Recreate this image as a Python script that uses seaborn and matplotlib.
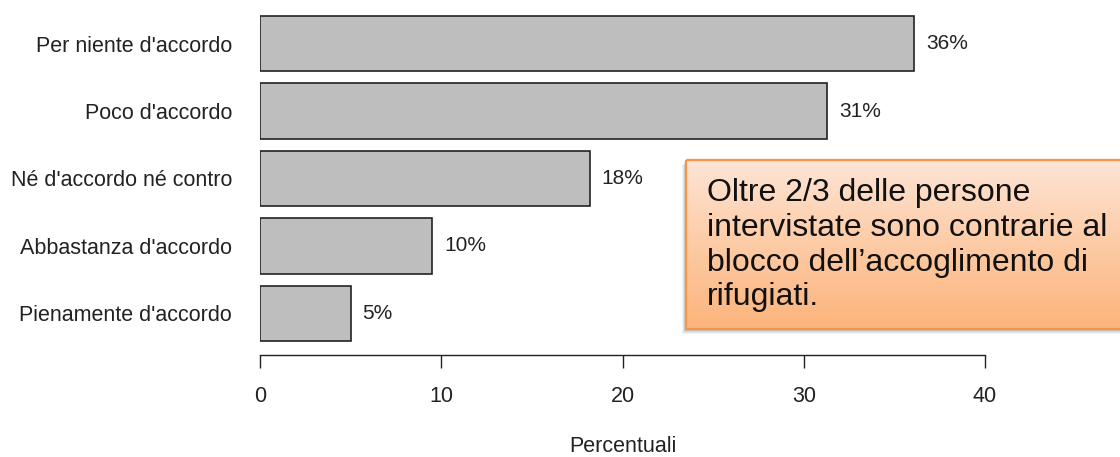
import numpy as np
import pandas as pd
import matplotlib
matplotlib.use("Agg")
import matplotlib.pyplot as plt
import matplotlib.patches as mpatches
from matplotlib.colors import LinearSegmentedColormap
import seaborn as sns

# data
categories = ["Per niente d'accordo", "Poco d'accordo", "Né d'accordo né contro",
              "Abbastanza d'accordo", "Pienamente d'accordo"]
percent = [36.1, 31.3, 18.2, 9.5, 5.0]
labels = ["36%", "31%", "18%", "10%", "5%"]
note = "Oltre 2/3 delle persone\nintervistate sono contrarie al\nblocco dell\u2019accoglimento di\nrifugiati."

df = pd.DataFrame({"cat": categories, "pct": percent})

sns.set_style("white")
plt.rcParams["font.family"] = ["Liberation Sans", "DejaVu Sans"]

W, H = 1120, 457
fig = plt.figure(figsize=(W / 100, H / 100), dpi=100)
ax = fig.add_axes([260 / W, 1 - 355 / H, 725 / W, 353 / H])

sns.barplot(data=df, y="cat", x="pct", orient="h", color="#bebebe",
            edgecolor="#222222", linewidth=1.2, width=0.82, saturation=1, ax=ax)

for i, (v, lab) in enumerate(zip(percent, labels)):
    ax.text(v + 0.65, i, lab, va="center", ha="left", fontsize=15, color="#222222")

ax.set_xlim(0, 40)
ax.set_ylim(4.615, -0.615)
ax.set_xticks([0, 10, 20, 30, 40])
ax.tick_params(axis="x", direction="out", length=9.4, width=1, color="#222222",
               labelsize=15.5, pad=13, labelcolor="#222222", bottom=True)
ax.tick_params(axis="y", length=0, labelsize=15.5, pad=20, labelcolor="#222222")
for s in ["top", "right", "left"]:
    ax.spines[s].set_visible(False)
ax.spines["bottom"].set_color("#222222")
ax.spines["bottom"].set_linewidth(1)
ax.set_ylabel("")
ax.set_xlabel("Percentuali", fontsize=15.5, color="#222222", labelpad=21)

# callout box with gradient and shadow
bx0, by0, bx1, by1 = 686, 160, 1125, 329
cax = fig.add_axes([0, 0, 1, 1], facecolor="none")
cax.set_xlim(0, W)
cax.set_ylim(H, 0)
cax.axis("off")
for k in range(6):
    off = 1 + k
    cax.add_patch(mpatches.Rectangle((bx0 - off * 0.6, by0 + off * 0.8),
                                     bx1 - bx0, by1 - by0,
                                     facecolor="#000000", alpha=0.05, lw=0))
cmap = LinearSegmentedColormap.from_list("peach", ["#fee5d6", "#fdcba5", "#fcb47c"])
grad = np.linspace(0, 1, 256).reshape(-1, 1)
cax.imshow(grad, cmap=cmap, extent=(bx0, bx1, by1, by0), aspect="auto", zorder=2)
cax.add_patch(mpatches.Rectangle((bx0, by0), bx1 - bx0, by1 - by0,
                                 facecolor="none", edgecolor="#f79646", lw=1.6, zorder=3))
cax.text(707, 178, note, fontsize=23, va="top", ha="left", color="#111111",
         linespacing=1.21, zorder=4)
cax.set_xlim(0, W)
cax.set_ylim(H, 0)

fig.savefig("out.png", dpi=100)
